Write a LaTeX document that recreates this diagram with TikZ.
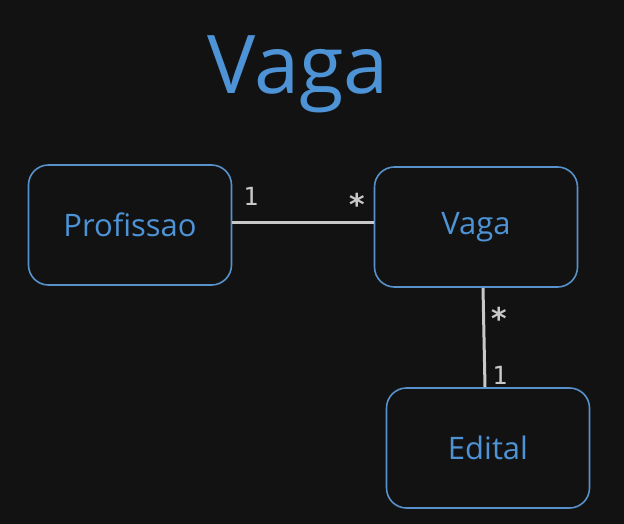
\documentclass[tikz,border=0pt]{standalone}
\usepackage{fontspec}
\setmainfont{Open Sans}
\setmonofont{DejaVu Sans Mono}
\usepackage{xcolor}
\definecolor{bgdark}{HTML}{121212}
\definecolor{umlblue}{HTML}{4D93D6}
\definecolor{boxline}{HTML}{5792CC}
\definecolor{linkgray}{HTML}{C8C8C8}
\tikzset{
  entity box/.style={
    draw=boxline,
    line width=1.6pt,
    rounded corners=20pt,
    text=umlblue,
    font=\fontsize{31}{31}\selectfont,
    minimum width={203pt},
    minimum height={120pt},
  },
  link/.style={
    draw=linkgray,
    line width=3pt,
  },
  mult/.style={
    text=linkgray,
    font=\ttfamily\fontsize{25}{25}\selectfont,
  },
  mult star/.style={
    text=linkgray,
    font=\ttfamily\bfseries\fontsize{30}{30}\selectfont,
  }
}

\begin{document}
\begin{tikzpicture}[x=1pt,y=-1pt]
        \fill [bgdark] (0,0) rectangle (624,524);
        \useasboundingbox (0,0) rectangle (624,524);

        \node [text=umlblue, font=\fontsize{81}{81}\selectfont] (title) at (298,74) {Vaga};

        \node [entity box] (profissao) at (130,225) {Profissao};
        \node [entity box] (vaga) at (476,227) {Vaga};
        \node [entity box] (edital) at (488,448) {Edital};

        \draw [link] (profissao.east |- 0,222) -- (vaga.west |- 0,222);
        \draw [link] ([xshift=7pt]vaga.south) -- ([xshift=-3pt]edital.north);

        \node [mult] (m1) at (251,196) {1};
        \node [mult star] (m2) at (357,204) {*};
        \node [mult star] (m3) at (499,318) {*};
        \node [mult] (m4) at (500,375) {1};
    \end{tikzpicture}
\end{document}
